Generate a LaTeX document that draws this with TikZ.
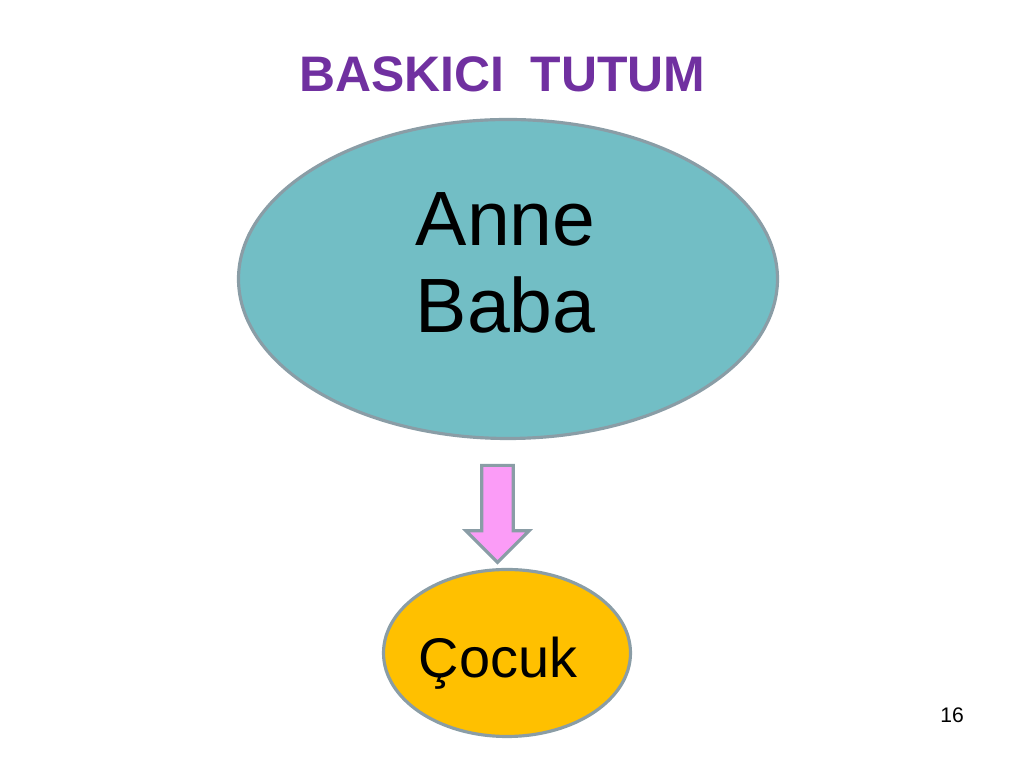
\documentclass[tikz,border=0pt]{standalone}
\usepackage{fontspec}
\setmainfont{Liberation Sans}
\usepackage{tikz}
\usetikzlibrary{shapes}

\definecolor{titlepurple}{HTML}{7030A0}
\definecolor{parentfill}{HTML}{72BEC5}
\definecolor{childfill}{HTML}{FFC000}
\definecolor{arrowpink}{HTML}{FB9CF7}
\definecolor{edgegray}{HTML}{8A9DA6}

\begin{document}
\begin{tikzpicture}
            \tikzstyle{blob}=[ellipse,draw=edgegray,line width=0.9pt,inner sep=0pt]
            \tikzstyle{word}=[inner sep=0pt,text=black]

            \useasboundingbox (0,0) rectangle (10.24,7.68);

            \node[word,anchor=base,text=titlepurple,font=\fontsize{14.2}{17}\selectfont\bfseries] (title) at (5.025, 6.76) {BASKICI\hspace{7.4pt}TUTUM};

            \node[blob,fill=parentfill,minimum width=5.39cm,minimum height=3.19cm] (parents) at (5.08, 4.89) {};
            \node[blob,fill=childfill,minimum width=2.47cm,minimum height=1.67cm] (child) at (5.07, 1.15) {};

            \node[single arrow,draw=edgegray,fill=arrowpink,line width=0.9pt,inner sep=0.142cm,
                  minimum height=0.97cm,single arrow head extend=0.158cm,rotate=-90] (push) at (4.975, 2.62) {};

            \node[word,anchor=base west,align=left,font=\fontsize{21.9}{25}\selectfont] (parents-text) at (4.15, 4.35) {Anne\\Baba};
            \node[word,anchor=base west,font=\fontsize{15.9}{19}\selectfont] (child-text) at (4.18, 0.90) {Çocuk};

            \node[word,anchor=base,font=\fontsize{6}{7}\selectfont] (page) at (9.52, 0.45) {16};
        \end{tikzpicture}
\end{document}
